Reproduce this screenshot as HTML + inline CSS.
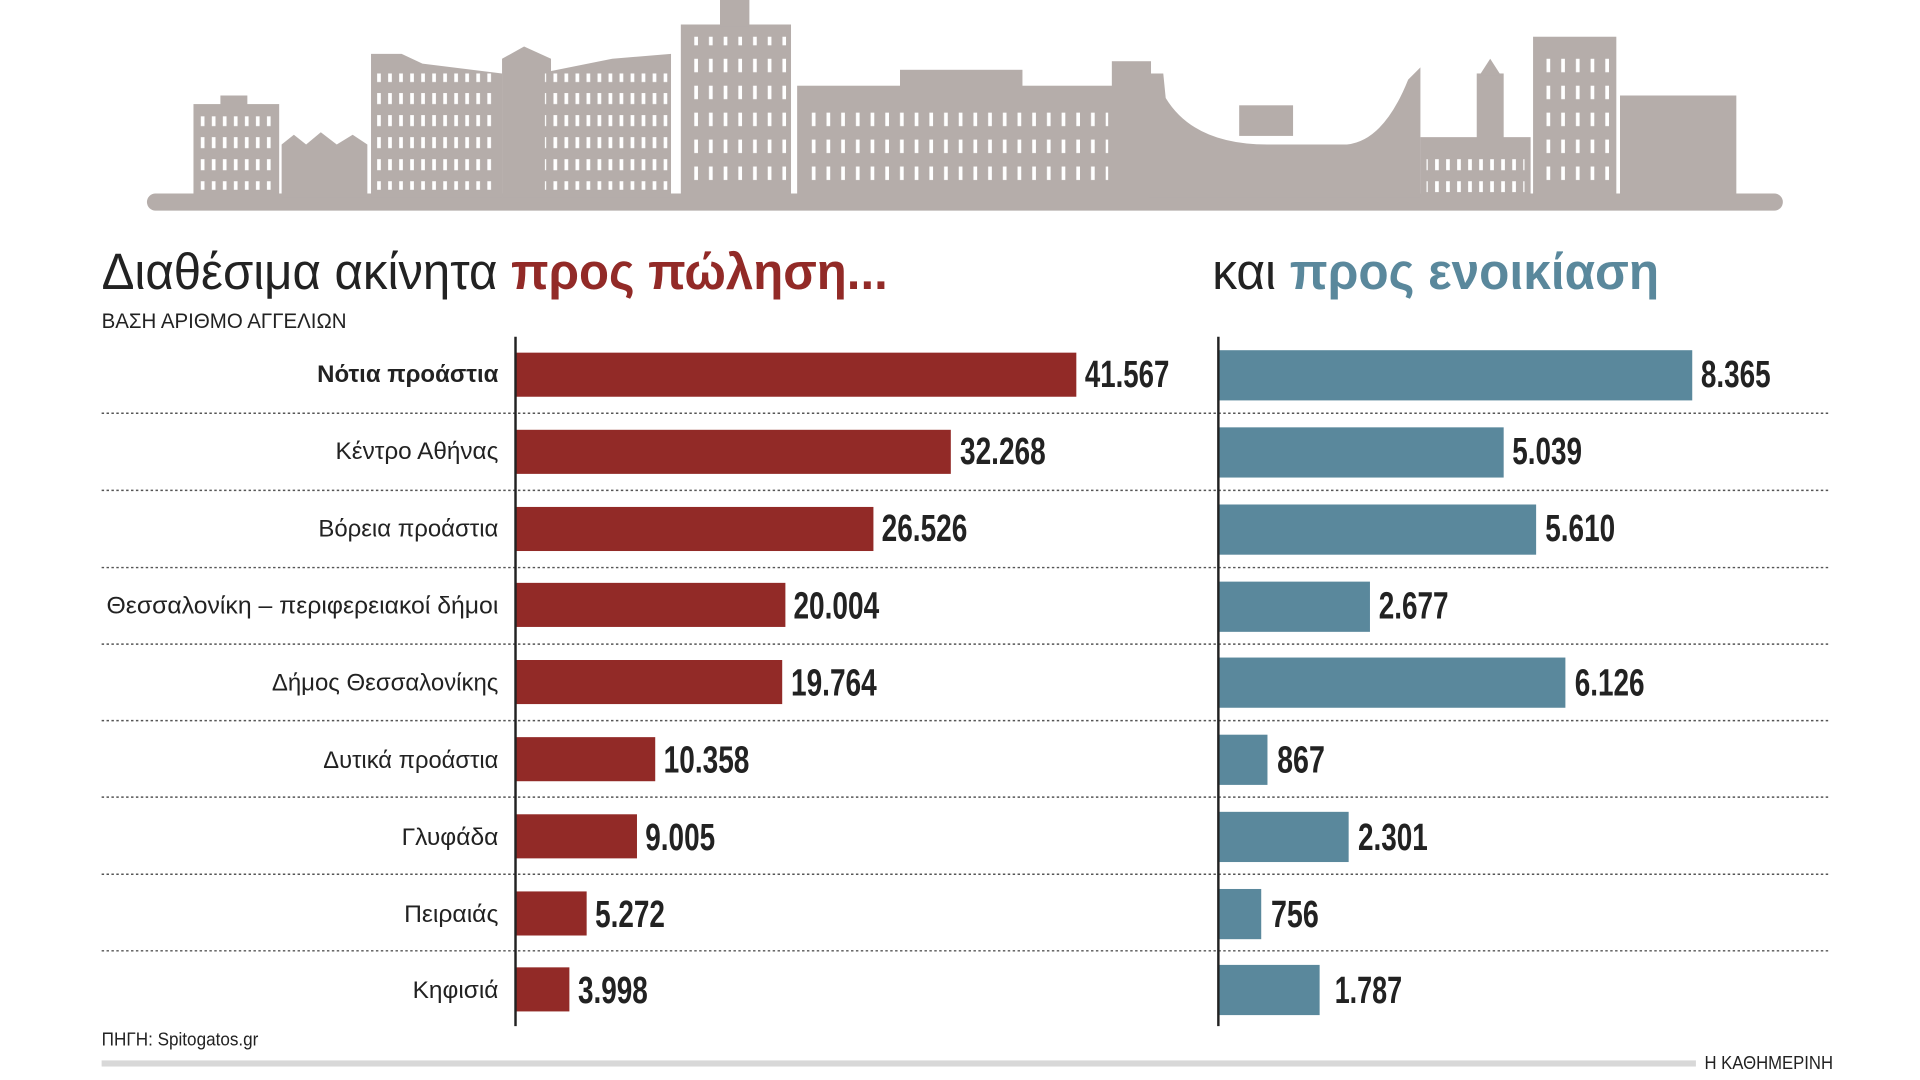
<!DOCTYPE html>
<html><head><meta charset="utf-8"><style>
html,body{margin:0;padding:0;background:#fff;}
svg{display:block}
text{font-family:"Liberation Sans Narrow","Liberation Sans","DejaVu Sans Condensed",sans-serif;}
</style></head><body>
<svg width="1920" height="1080" viewBox="0 0 1568 882" xmlns="http://www.w3.org/2000/svg">
<defs>
<pattern id="win" x="0" y="0" width="9" height="18" patternUnits="userSpaceOnUse">
<rect x="2" y="4" width="3" height="9" fill="#fff"/>
</pattern>
<pattern id="win2" x="0" y="0" width="12" height="22" patternUnits="userSpaceOnUse">
<rect x="3" y="4" width="3" height="11" fill="#fff"/>
</pattern>
</defs>
<g fill="#b5adaa">
<rect x="120" y="158" width="1336" height="14" rx="7"/>
<rect x="158" y="85" width="70" height="76"/>
<rect x="180" y="78" width="22" height="10"/>
<polygon points="230,161 230,118 240,110 250,118 262,108 275,118 288,110 300,118 300,161"/>
<polygon points="303,161 303,44 328,44 345,52 410,60 410,161"/>
<polygon points="410,161 410,48 428,38 450,48 450,161"/>
<polygon points="440,161 440,60 500,48 548,44 548,161"/>
<rect x="556" y="20" width="90" height="141"/>
<rect x="588" y="0" width="24" height="22"/>
<rect x="651" y="70" width="260" height="91"/>
<rect x="735" y="57" width="100" height="15"/>
<rect x="908" y="50" width="32" height="111"/>
<path d="M938 60 L950 60 L952 80 Q975 118 1035 118 L1100 118 Q1130 115 1150 65 L1160 55 L1160 161 L938 161 Z"/>
<rect x="1012" y="86" width="44" height="25"/>
<rect x="1160" y="112" width="90" height="49"/>
<rect x="1206" y="60" width="22" height="55"/>
<polygon points="1208,62 1217,48 1226,62"/>
<rect x="1252" y="30" width="68" height="131"/>
<rect x="1323" y="78" width="95" height="83"/>
</g>
<rect x="303" y="60" width="100" height="95" fill="url(#win)"/>
<rect x="445" y="60" width="100" height="95" fill="url(#win)"/>
<rect x="560" y="30" width="82" height="120" fill="url(#win2)"/>
<rect x="655" y="90" width="250" height="60" fill="url(#win2)"/>
<rect x="160" y="95" width="65" height="60" fill="url(#win)"/>
<rect x="1255" y="40" width="62" height="115" fill="url(#win2)"/>
<rect x="1165" y="122" width="80" height="35" fill="url(#win)"/>

<text x="83" y="236" font-size="42" fill="#222" textLength="642" lengthAdjust="spacingAndGlyphs">Διαθέσιμα ακίνητα <tspan fill="#922a27" font-weight="bold">προς πώληση...</tspan></text>
<text x="990" y="236" font-size="42" fill="#222" textLength="365" lengthAdjust="spacingAndGlyphs">και <tspan fill="#5a889c" font-weight="bold">προς ενοικίαση</tspan></text>
<text x="83" y="268" font-size="17" fill="#222" textLength="200" lengthAdjust="spacingAndGlyphs">ΒΑΣΗ ΑΡΙΘΜΟ ΑΓΓΕΛΙΩΝ</text>

<g stroke="#555" stroke-width="1.2" stroke-dasharray="2,2">
<line x1="83" x2="1493" y1="337.5" y2="337.5"/>
<line x1="83" x2="1493" y1="400.5" y2="400.5"/>
<line x1="83" x2="1493" y1="463.5" y2="463.5"/>
<line x1="83" x2="1493" y1="526" y2="526"/>
<line x1="83" x2="1493" y1="588.5" y2="588.5"/>
<line x1="83" x2="1493" y1="651" y2="651"/>
<line x1="83" x2="1493" y1="714" y2="714"/>
<line x1="83" x2="1493" y1="776.5" y2="776.5"/>
</g>

<g fill="#922a27">
<rect x="421" y="288" width="458" height="36"/>
<rect x="421" y="351" width="355.5" height="36"/>
<rect x="421" y="414" width="292.3" height="36"/>
<rect x="421" y="476" width="220.4" height="36"/>
<rect x="421" y="539" width="217.8" height="36"/>
<rect x="421" y="602" width="114.1" height="36"/>
<rect x="421" y="665" width="99.2" height="36"/>
<rect x="421" y="728" width="58.1" height="36"/>
<rect x="421" y="790" width="44" height="36"/>
</g>
<g fill="#5a889c">
<rect x="995" y="286" width="387" height="41"/>
<rect x="995" y="349" width="233" height="41"/>
<rect x="995" y="412" width="259.5" height="41"/>
<rect x="995" y="475" width="123.8" height="41"/>
<rect x="995" y="537" width="283.4" height="41"/>
<rect x="995" y="600" width="40.1" height="41"/>
<rect x="995" y="663" width="106.4" height="41"/>
<rect x="995" y="726" width="35" height="41"/>
<rect x="995" y="788" width="82.7" height="41"/>
</g>
<line x1="421" x2="421" y1="275" y2="838" stroke="#222" stroke-width="2"/>
<line x1="995" x2="995" y1="275" y2="838" stroke="#222" stroke-width="2"/>

<g font-size="20" fill="#222" text-anchor="end">
<text x="407" y="312" font-weight="bold" textLength="148" lengthAdjust="spacingAndGlyphs">Νότια προάστια</text>
<text x="407" y="375" textLength="133" lengthAdjust="spacingAndGlyphs">Κέντρο Αθήνας</text>
<text x="407" y="438" textLength="147" lengthAdjust="spacingAndGlyphs">Βόρεια προάστια</text>
<text x="407" y="501" textLength="320" lengthAdjust="spacingAndGlyphs">Θεσσαλονίκη – περιφερειακοί δήμοι</text>
<text x="407" y="564" textLength="185" lengthAdjust="spacingAndGlyphs">Δήμος Θεσσαλονίκης</text>
<text x="407" y="627" textLength="143" lengthAdjust="spacingAndGlyphs">Δυτικά προάστια</text>
<text x="407" y="690" textLength="79" lengthAdjust="spacingAndGlyphs">Γλυφάδα</text>
<text x="407" y="753" textLength="77" lengthAdjust="spacingAndGlyphs">Πειραιάς</text>
<text x="407" y="815" textLength="70" lengthAdjust="spacingAndGlyphs">Κηφισιά</text>
</g>
<g font-size="31" font-weight="bold" fill="#222" lengthAdjust="spacingAndGlyphs">
<text x="886" y="316" textLength="69" lengthAdjust="spacingAndGlyphs">41.567</text>
<text x="784" y="379" textLength="70" lengthAdjust="spacingAndGlyphs">32.268</text>
<text x="720" y="442" textLength="70" lengthAdjust="spacingAndGlyphs">26.526</text>
<text x="648" y="505" textLength="70" lengthAdjust="spacingAndGlyphs">20.004</text>
<text x="646" y="568" textLength="70" lengthAdjust="spacingAndGlyphs">19.764</text>
<text x="542" y="631" textLength="70" lengthAdjust="spacingAndGlyphs">10.358</text>
<text x="527" y="694" textLength="57" lengthAdjust="spacingAndGlyphs">9.005</text>
<text x="486" y="757" textLength="57" lengthAdjust="spacingAndGlyphs">5.272</text>
<text x="472" y="819" textLength="57" lengthAdjust="spacingAndGlyphs">3.998</text>
<text x="1389" y="316" textLength="57" lengthAdjust="spacingAndGlyphs">8.365</text>
<text x="1235" y="379" textLength="57" lengthAdjust="spacingAndGlyphs">5.039</text>
<text x="1262" y="442" textLength="57" lengthAdjust="spacingAndGlyphs">5.610</text>
<text x="1126" y="505" textLength="57" lengthAdjust="spacingAndGlyphs">2.677</text>
<text x="1286" y="568" textLength="57" lengthAdjust="spacingAndGlyphs">6.126</text>
<text x="1043" y="631" textLength="39" lengthAdjust="spacingAndGlyphs">867</text>
<text x="1109" y="694" textLength="57" lengthAdjust="spacingAndGlyphs">2.301</text>
<text x="1038" y="757" textLength="39" lengthAdjust="spacingAndGlyphs">756</text>
<text x="1090" y="819" textLength="55" lengthAdjust="spacingAndGlyphs">1.787</text>
</g>
<text x="83" y="854" font-size="15" fill="#222" textLength="128" lengthAdjust="spacingAndGlyphs">ΠΗΓΗ: Spitogatos.gr</text>
<rect x="83" y="866" width="1302" height="5" fill="#d8d8d8"/>
<text x="1392" y="873" font-size="15" fill="#222" textLength="105" lengthAdjust="spacingAndGlyphs">Η ΚΑΘΗΜΕΡΙΝΗ</text>
</svg>
</body></html>
